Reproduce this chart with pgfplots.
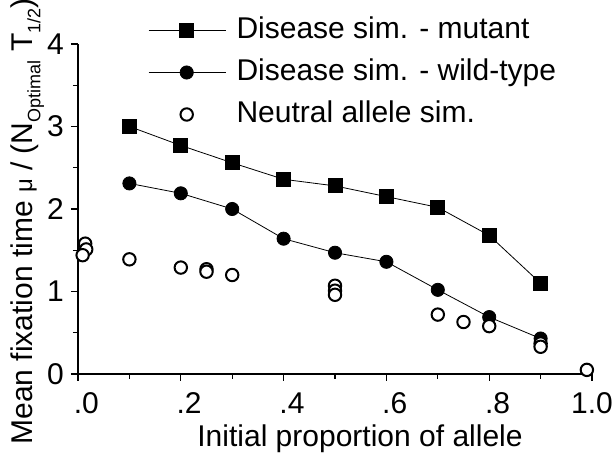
\documentclass[border=0pt]{standalone}
\usepackage{fontspec}
\setmainfont{Liberation Sans}
\usepackage{pgfplots}
\pgfplotsset{compat=1.18}

\newcommand{\fs}{\fontsize{15}{17.5}\selectfont}
\newcommand{\sub}[1]{\raisebox{-0.28em}{\fontsize{9}{10}\selectfont #1}}

% legend sample: a line with the mark in its middle
\pgfplotsset{myleg/.style={legend image code/.code={%
  \draw[mark repeat=2,mark phase=2,##1] plot coordinates {(0pt,0pt)(19pt,0pt)(38.5pt,0pt)};}}}

\begin{document}
\begin{tikzpicture}
\begin{axis}[
  name=ax,
  scale only axis,
  width=257pt, height=165pt,
  xmin=0, xmax=1, ymin=0, ymax=4,
  axis lines*=left,
  axis line style={line width=0.75pt},
  clip=false,
  xtick={0,0.2,0.4,0.6,0.8,1.0},
  xticklabels={\phantom{0}.0,\phantom{0}.2,\phantom{0}.4,\phantom{0}.6,\phantom{0}.8,1.0},
  minor xtick={0.1,0.3,0.5,0.7,0.9},
  ytick={0,1,2,3,4},
  minor ytick={0.5,1.5,2.5,3.5},
  tick align=outside,
  major tick length=3.5pt,
  minor tick length=2.5pt,
  tick style={line width=0.6pt, black},
  ticklabel style={font=\fs},
  xticklabel style={yshift=-2pt},
  /pgf/number format/assume math mode=true,
  legend cell align=left,
  legend style={at={(0.136,1.09)}, anchor=north west, draw=none, fill=none,
    inner sep=0pt, font=\fs, row sep=5.2pt,
    nodes={inner sep=1pt, text height=10.8pt, text depth=3pt},
    /tikz/every odd column/.append style={column sep=4.2pt}},
]
% Disease sim. - mutant
\addplot[black, line width=0.4pt, mark=square*, mark size=3.5pt, myleg]
coordinates {
  (0.1,3.00)(0.2,2.77)(0.3,2.56)(0.4,2.36)(0.5,2.28)
  (0.6,2.15)(0.7,2.02)(0.8,1.68)(0.9,1.10)
};
% Disease sim. - wild-type
\addplot[black, line width=0.4pt, mark=*, mark size=3.3pt, myleg]
coordinates {
  (0.1,2.31)(0.2,2.19)(0.3,2.00)(0.4,1.64)(0.5,1.47)
  (0.6,1.36)(0.7,1.02)(0.8,0.69)(0.9,0.43)
};
% Neutral allele sim.
\addplot[black, only marks, mark=*, mark size=3.1pt,
  mark options={fill=white, line width=1pt}, myleg]
coordinates {
  (0.014,1.58)(0.016,1.51)(0.009,1.44)(0.1,1.39)(0.2,1.29)
  (0.25,1.27)(0.25,1.24)(0.3,1.20)(0.5,1.07)(0.5,1.01)(0.5,0.96)
  (0.7,0.72)(0.75,0.63)(0.8,0.58)(0.9,0.37)(0.9,0.33)(0.99,0.05)
};
\legend{Disease sim. - mutant, Disease sim. - wild-type, Neutral allele sim.}
\end{axis}
\node[font=\fs, anchor=base] at ([shift={(141pt,-36.5pt)}]ax.south west)
  {Initial proportion of allele};
\node[font=\fs, rotate=90, anchor=base west, inner sep=0pt]
  at ([shift={(-23pt,-35.5pt)}]ax.south west)
  {Mean fixation time {\fontsize{12}{14}\selectfont μ} / (N\sub{Optimal} T\sub{1/2})};
\pgfresetboundingbox
\path ([shift={(-39pt,-44.5pt)}]ax.south west) rectangle ([shift={(10.5pt,22pt)}]ax.north east);
\end{tikzpicture}
\end{document}
